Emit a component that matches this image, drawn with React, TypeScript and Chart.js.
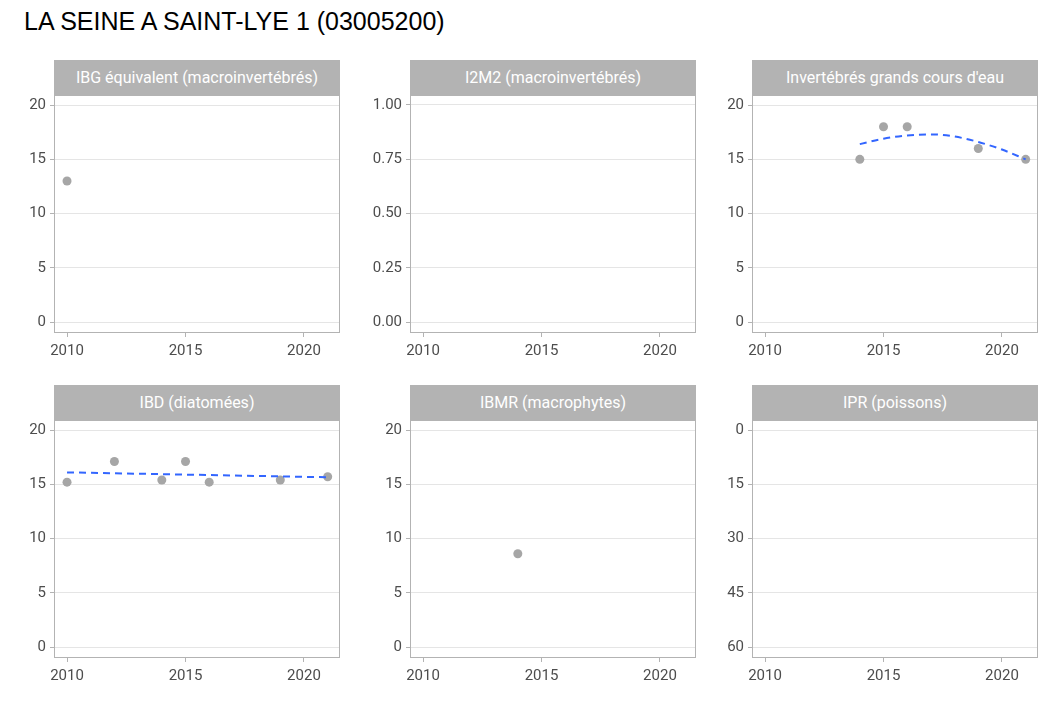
import { Chart, registerables } from "chart.js";
import { useEffect, useRef } from "react";

Chart.register(...registerables);

const title = "LA SEINE A SAINT-LYE 1 (03005200)";
const panelNames = [
  "IBG équivalent (macroinvertébrés)",
  "I2M2 (macroinvertébrés)",
  "Invertébrés grands cours d'eau",
  "IBD (diatomées)",
  "IBMR (macrophytes)",
  "IPR (poissons)",
];
const xTicks = [2010, 2015, 2020];

const ibgYears = [2010];
const ibgValues = [13];
const igceYears = [2014, 2015, 2016, 2019, 2021];
const igceValues = [15, 18, 18, 16, 15];
const igceTrendYears = [2014, 2015, 2016, 2017, 2018, 2019, 2020, 2021];
const igceTrendValues = [16.4, 16.9, 17.2, 17.3, 17.1, 16.6, 15.9, 15.0];
const ibdYears = [2010, 2012, 2014, 2015, 2016, 2019, 2021];
const ibdValues = [15.2, 17.1, 15.4, 17.1, 15.2, 15.4, 15.7];
const ibdTrendYears = [2010, 2021];
const ibdTrendValues = [16.1, 15.65];
const ibmrYears = [2014];
const ibmrValues = [8.6];

const noteTicks = [0, 5, 10, 15, 20];
const i2m2Ticks = [0, 0.25, 0.5, 0.75, 1];
const iprTicks = [0, 15, 30, 45, 60];

const zip = (xs: number[], ys: number[]) => xs.map((x, i) => ({ x, y: ys[i] }));

type Panel = {
  points: { x: number; y: number }[];
  trend?: { x: number; y: number }[];
  yTicks: number[];
  yMin: number;
  yMax: number;
  reverse?: boolean;
  digits: number;
};

const panels: Panel[] = [
  { points: zip(ibgYears, ibgValues), yTicks: noteTicks, yMin: -1.01, yMax: 20.93, digits: 0 },
  { points: [], yTicks: i2m2Ticks, yMin: -0.05, yMax: 1.046, digits: 2 },
  { points: zip(igceYears, igceValues), trend: zip(igceTrendYears, igceTrendValues), yTicks: noteTicks, yMin: -1.01, yMax: 20.93, digits: 0 },
  { points: zip(ibdYears, ibdValues), trend: zip(ibdTrendYears, ibdTrendValues), yTicks: noteTicks, yMin: -1.01, yMax: 20.93, digits: 0 },
  { points: zip(ibmrYears, ibmrValues), yTicks: noteTicks, yMin: -1.01, yMax: 20.93, digits: 0 },
  { points: [], yTicks: iprTicks, yMin: -2.8, yMax: 63, reverse: true, digits: 0 },
];

const colLeft = [54, 410, 752];
const rowTop = [60, 385];
const panelW = 286;
const stripH = 35;
const plotH = 238;
const axisW = 46;
const axisH = 30;
const topPad = 13;

const borderPlugin = {
  id: "frame",
  afterDraw(chart: Chart) {
    const { ctx, chartArea: a } = chart;
    ctx.save();
    ctx.strokeStyle = "#b3b3b3";
    ctx.lineWidth = 1;
    ctx.strokeRect(a.left + 0.5, a.top + 0.5, a.width - 1, a.height - 1);
    ctx.restore();
  },
};

function PanelChart({ p }: { p: Panel }) {
  const ref = useRef<HTMLCanvasElement>(null);
  useEffect(() => {
    if (!ref.current) return;
    const datasets: any[] = [];
    if (p.trend) {
      datasets.push({
        type: "line",
        data: p.trend,
        borderColor: "#3366ff",
        borderWidth: 2,
        borderDash: [7, 5],
        pointRadius: 0,
        tension: 0.4,
        cubicInterpolationMode: "monotone",
      });
    }
    datasets.push({
      type: "scatter",
      data: p.points,
      backgroundColor: "#a6a6a6",
      borderWidth: 0,
      pointRadius: 4.5,
    });
    const chart = new Chart(ref.current, {
      type: "scatter",
      data: { datasets },
      options: {
        animation: false,
        responsive: false,
        layout: { padding: { right: 22, top: 0, bottom: 0, left: 0 } },
        plugins: { legend: { display: false }, tooltip: { enabled: false } },
        scales: {
          x: {
            type: "linear",
            min: 2009.45,
            max: 2021.52,
            afterBuildTicks: (s: any) => { s.ticks = xTicks.map((v) => ({ value: v })); },
            afterFit: (s: any) => { s.height = axisH; },
            grid: { drawOnChartArea: false, tickLength: 4, tickColor: "#b3b3b3", color: "#b3b3b3" },
            border: { display: false },
            ticks: { color: "#4d4d4d", font: { family: "Roboto", size: 15 }, padding: 5, callback: (v: any) => String(v) },
          },
          y: {
            min: p.yMin,
            max: p.yMax,
            reverse: !!p.reverse,
            afterBuildTicks: (s: any) => { s.ticks = p.yTicks.map((v) => ({ value: v })); },
            afterFit: (s: any) => { s.width = axisW; },
            grid: { color: "#e5e5e5", tickLength: 4, tickColor: "#b3b3b3" },
            border: { display: false },
            ticks: { color: "#4d4d4d", font: { family: "Roboto", size: 15 }, padding: 4, callback: (v: any) => Number(v).toFixed(p.digits) },
          },
        },
      },
      plugins: [borderPlugin],
    });
    return () => chart.destroy();
  }, [p]);
  return <canvas ref={ref} width={axisW + panelW + 22} height={plotH + axisH + topPad} style={{ display: "block" }} />;
}

export default function App() {
  return (
    <div style={{ position: "fixed", left: 0, top: 0, width: 1062, height: 708, background: "#fff", fontFamily: "Roboto" }}>
      <div style={{ position: "absolute", left: 24, top: 7, fontSize: 25, color: "#000", fontFamily: "'Liberation Sans', Arial" }}>{title}</div>
      {panels.map((p, i) => {
        const left = colLeft[i % 3];
        const top = rowTop[Math.floor(i / 3)];
        return (
          <div key={i}>
            <div
              style={{
                position: "absolute", left, top, width: panelW, height: stripH, background: "#b3b3b3",
                color: "#fff", fontSize: 16, display: "flex", alignItems: "center", justifyContent: "center", whiteSpace: "nowrap",
              }}
            >
              {panelNames[i]}
            </div>
            <div style={{ position: "absolute", left: left - axisW, top: top + stripH - topPad }}>
              <PanelChart p={p} />
            </div>
          </div>
        );
      })}
    </div>
  );
}
